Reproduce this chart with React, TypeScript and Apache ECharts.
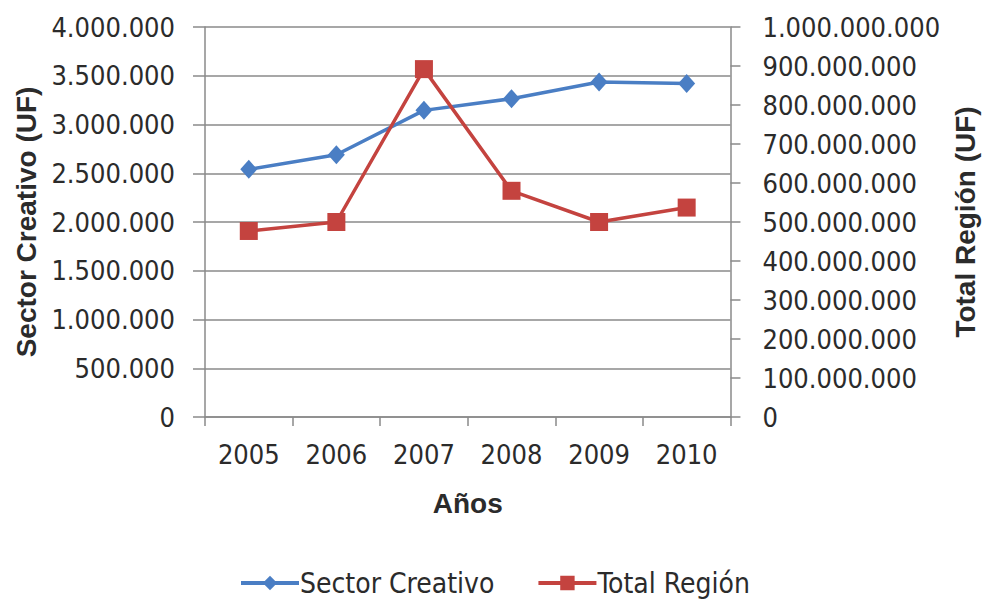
import React, { useEffect, useRef } from "react";
import * as echarts from "echarts";

const years = ["2005", "2006", "2007", "2008", "2009", "2010"];
const sectorCreativo = [2540000, 2690000, 3145000, 3265000, 3435000, 3420000];
const totalRegion = [477000000, 500000000, 892000000, 580000000, 500000000, 537000000];

const leftMin = 0;
const leftMax = 4000000;
const leftStep = 500000;
const rightMin = 0;
const rightMax = 1000000000;
const rightStep = 100000000;

const FONT = "'Liberation Sans Narrow', 'Arial Narrow', 'DejaVu Sans Condensed', sans-serif";
const BOLD_FONT = "'Liberation Sans', Arial, sans-serif";
const GRID_COLOR = "#8a8a8a";
const TEXT_COLOR = "#2b2b2b";
const BLUE = "#4a7ec4";
const RED = "#c4433f";

const fmt = (v: number) => {
  const s = Math.round(v).toString();
  return s.replace(/\B(?=(\d{3})+(?!\d))/g, ".");
};

export default function App() {
  const ref = useRef<HTMLDivElement>(null);
  useEffect(() => {
    if (!ref.current) return;
    const chart = echarts.init(ref.current, undefined, { renderer: "svg" });
    chart.setOption({
      animation: false,
      backgroundColor: "#ffffff",
      grid: { left: 205, right: 250, top: 27, bottom: 182, containLabel: false },
      legend: {
        left: 234,
        top: 564,
        itemWidth: 58,
        itemHeight: 18,
        itemGap: 42,
        lineStyle: { width: 4 },
        textStyle: { fontFamily: FONT, fontSize: 28, color: TEXT_COLOR, padding: [0, 0, 0, -4] },
        data: ["Sector Creativo", "Total Región"],
      },
      xAxis: {
        type: "category",
        data: years,
        boundaryGap: true,
        name: "Años",
        nameLocation: "middle",
        nameGap: 72,
        nameTextStyle: { fontFamily: BOLD_FONT, fontWeight: "bold", fontSize: 28, color: TEXT_COLOR },
        axisLine: { show: true, lineStyle: { color: GRID_COLOR, width: 1.5 } },
        axisTick: { show: true, interval: 0, alignWithLabel: false, length: 9, lineStyle: { color: GRID_COLOR, width: 1.5 } },
        axisLabel: { margin: 24, fontFamily: FONT, fontSize: 27, color: TEXT_COLOR },
        splitLine: { show: false },
      },
      yAxis: [
        {
          type: "value",
          position: "left",
          min: leftMin,
          max: leftMax,
          interval: leftStep,
          name: "Sector Creativo (UF)",
          nameLocation: "middle",
          nameRotate: 90,
          nameGap: 164,
          nameTextStyle: { fontFamily: BOLD_FONT, fontWeight: "bold", fontSize: 28, color: TEXT_COLOR },
          axisLine: { show: true, lineStyle: { color: GRID_COLOR, width: 1.5 } },
          axisTick: { show: true, inside: false, length: 12, lineStyle: { color: GRID_COLOR, width: 1.5 } },
          axisLabel: { margin: 30, fontFamily: FONT, fontSize: 27, color: TEXT_COLOR, formatter: fmt },
          splitLine: { show: true, lineStyle: { color: GRID_COLOR, width: 1.5 } },
        },
        {
          type: "value",
          position: "right",
          min: rightMin,
          max: rightMax,
          interval: rightStep,
          name: "Total Región (UF)",
          nameLocation: "middle",
          nameRotate: 90,
          nameGap: 213,
          nameTextStyle: { fontFamily: BOLD_FONT, fontWeight: "bold", fontSize: 28, color: TEXT_COLOR },
          axisLine: { show: true, lineStyle: { color: GRID_COLOR, width: 1.5 } },
          axisTick: { show: true, inside: false, length: 10, lineStyle: { color: GRID_COLOR, width: 1.5 } },
          axisLabel: { margin: 32, fontFamily: FONT, fontSize: 27, color: TEXT_COLOR, formatter: fmt },
          splitLine: { show: false },
        },
      ],
      series: [
        {
          name: "Sector Creativo",
          type: "line",
          yAxisIndex: 0,
          data: sectorCreativo,
          symbol: "diamond",
          symbolSize: [17, 19],
          lineStyle: { color: BLUE, width: 3.5 },
          itemStyle: { color: BLUE },
        },
        {
          name: "Total Región",
          type: "line",
          yAxisIndex: 1,
          data: totalRegion,
          symbol: "rect",
          symbolSize: 18,
          lineStyle: { color: RED, width: 3.5 },
          itemStyle: { color: RED },
        },
      ],
    });
    return () => chart.dispose();
  }, []);
  return (
    <div
      ref={ref}
      style={{ position: "fixed", left: 0, top: 0, width: 987, height: 599, background: "#fff" }}
    />
  );
}
